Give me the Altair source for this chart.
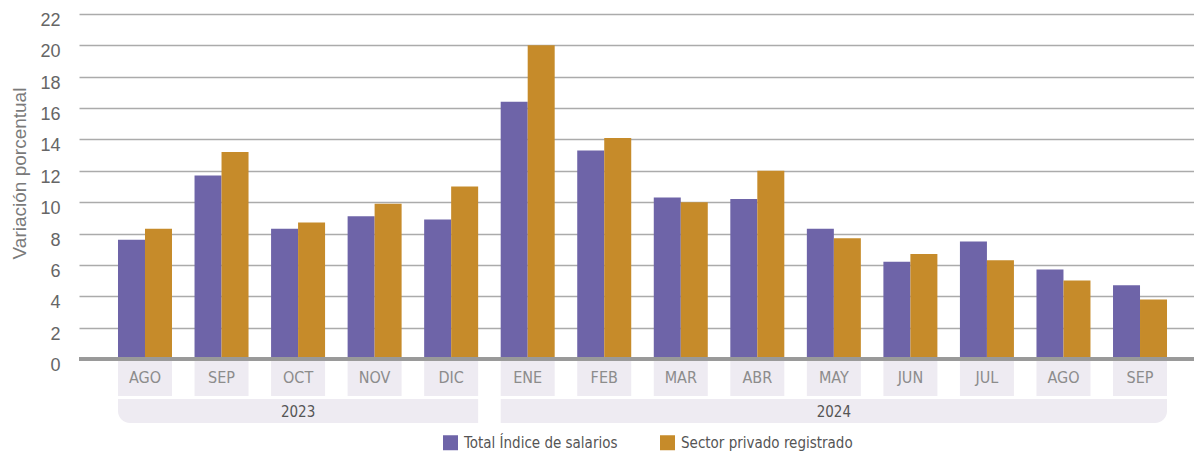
import altair as alt
import pandas as pd

months = ["AGO", "SEP", "OCT", "NOV", "DIC", "ENE", "FEB", "MAR", "ABR", "MAY", "JUN", "JUL", "AGO", "SEP"]
years = ["2023"] * 5 + ["2024"] * 9
total = [7.6, 11.7, 8.3, 9.1, 8.9, 16.4, 13.3, 10.3, 10.2, 8.3, 6.2, 7.5, 5.7, 4.7]
privado = [8.3, 13.2, 8.7, 9.9, 11.0, 20.0, 14.1, 10.0, 12.0, 7.7, 6.7, 6.3, 5.0, 3.8]
series = ["Total Índice de salarios", "Sector privado registrado"]
colors = ["#6e64a8", "#c68b2a"]
year_labels = ["2023", "2024"]
year_first = [0, 5]
year_last = [4, 13]
y_ticks = list(range(0, 23, 2))

keys = [f"{m} {y}" for m, y in zip(months, years)]

rows = []
for k, m, y, a, b in zip(keys, months, years, total, privado):
    rows.append({"key": k, "mes": m, "anio": y, "serie": series[0], "valor": a})
    rows.append({"key": k, "mes": m, "anio": y, "serie": series[1], "valor": b})
df = pd.DataFrame(rows)
dm = pd.DataFrame({"key": keys, "mes": months, "anio": years})

W, H = 1115, 345
NARROW = "Liberation Sans Narrow, DejaVu Sans Condensed, sans-serif"
REG = "Liberation Sans, Helvetica, Arial, sans-serif"

PI, PO, AL = 0.2945, 0.431, 0.591
xscale = alt.Scale(type="band", domain=keys, paddingInner=PI, paddingOuter=PO, align=AL)
# equivalent linear index scale (month index -> same pixel centres)
step = W / (len(keys) - PI + 2 * PO)
first_c = 2 * PO * step * AL + (1 - PI) * step / 2
half_bw = (1 - PI) / 2
idx_min = -first_c / step
idx_max = idx_min + W / step
iscale = alt.Scale(domain=[idx_min, idx_max], nice=False, zero=False)

dy = pd.DataFrame({
    "anio": year_labels,
    "ini": [f - half_bw for f in year_first],
    "fin": [l + half_bw for l in year_last],
})
dy["centro"] = (dy["ini"] + dy["fin"]) / 2

yscale = alt.Scale(domain=[0, 22], nice=False)
yaxis = alt.Axis(values=y_ticks, grid=True, gridColor="#ababab", gridWidth=1.6,
                 domain=False, ticks=False, tickSize=0, labelPadding=19, labelOverlap=False,
                 labelFont=REG, labelFontSize=18, labelColor="#666666",
                 labelBaseline="alphabetic", labelOffset=11.5,
                 title="Variación porcentual", titleFont=REG, titleFontSize=19,
                 titleFontWeight="normal", titleColor="#7a7a7a",
                 titleX=-54, titleY=159, titleAngle=270, titleBaseline="alphabetic")

bars = alt.Chart(df).mark_bar().encode(
    x=alt.X("key:N", scale=xscale, axis=None, sort=keys),
    xOffset=alt.XOffset("serie:N", sort=series, scale=alt.Scale(domain=series, paddingInner=0, paddingOuter=0)),
    y=alt.Y("valor:Q", scale=yscale, axis=yaxis),
    color=alt.Color("serie:N", scale=alt.Scale(domain=series, range=colors),
                    legend=alt.Legend(title=None, orient="none", legendX=364, legendY=421,
                                      direction="horizontal", symbolType="square", symbolSize=225,
                                      symbolStrokeWidth=0, symbolOpacity=1,
                                      labelFont=NARROW, labelFontSize=15, labelColor="#555555",
                                      labelLimit=400, columnPadding=42, labelOffset=6)),
)

baseline = alt.Chart(dm).mark_rule(color="#999999", strokeWidth=3).encode(
    y=alt.YDatum(0, scale=yscale, axis=yaxis), x=alt.value(0), x2=alt.value(W)
)

boxes = alt.Chart(dm).mark_bar(color="#eeebf2").encode(
    x=alt.X("key:N", scale=xscale, sort=keys, axis=None), y=alt.value(347), y2=alt.value(382)
)
box_text = alt.Chart(dm).mark_text(font=NARROW, fontSize=16, color="#8c8c8c", baseline="middle").encode(
    x=alt.X("key:N", scale=xscale, sort=keys, axis=None), y=alt.value(364), text="mes:N"
)

band23 = alt.Chart(dy.iloc[[0]]).mark_rect(color="#eeebf2", cornerRadiusBottomLeft=14).encode(
    x=alt.X("ini:Q", scale=iscale, axis=None), x2="fin:Q",
    y=alt.value(385), y2=alt.value(409)
)
band24 = alt.Chart(dy.iloc[[1]]).mark_rect(color="#eeebf2", cornerRadiusBottomRight=14).encode(
    x=alt.X("ini:Q", scale=iscale, axis=None), x2="fin:Q",
    y=alt.value(385), y2=alt.value(409)
)
year_text = alt.Chart(dy).mark_text(font=NARROW, fontSize=15, color="#555555", baseline="middle").encode(
    x=alt.X("centro:Q", scale=iscale, axis=None), y=alt.value(398), text="anio:N"
)

chart = alt.layer(boxes, box_text, band23, band24, year_text, bars, baseline).resolve_scale(
    x="independent"
).properties(
    width=W, height=H,
    autosize=alt.AutoSizeParams(type="none"),
    padding={"left": 71, "top": 6, "right": 0, "bottom": 93},
).configure_view(stroke=None)

chart.save("out.html", embed_options={"renderer": "svg", "actions": False})
